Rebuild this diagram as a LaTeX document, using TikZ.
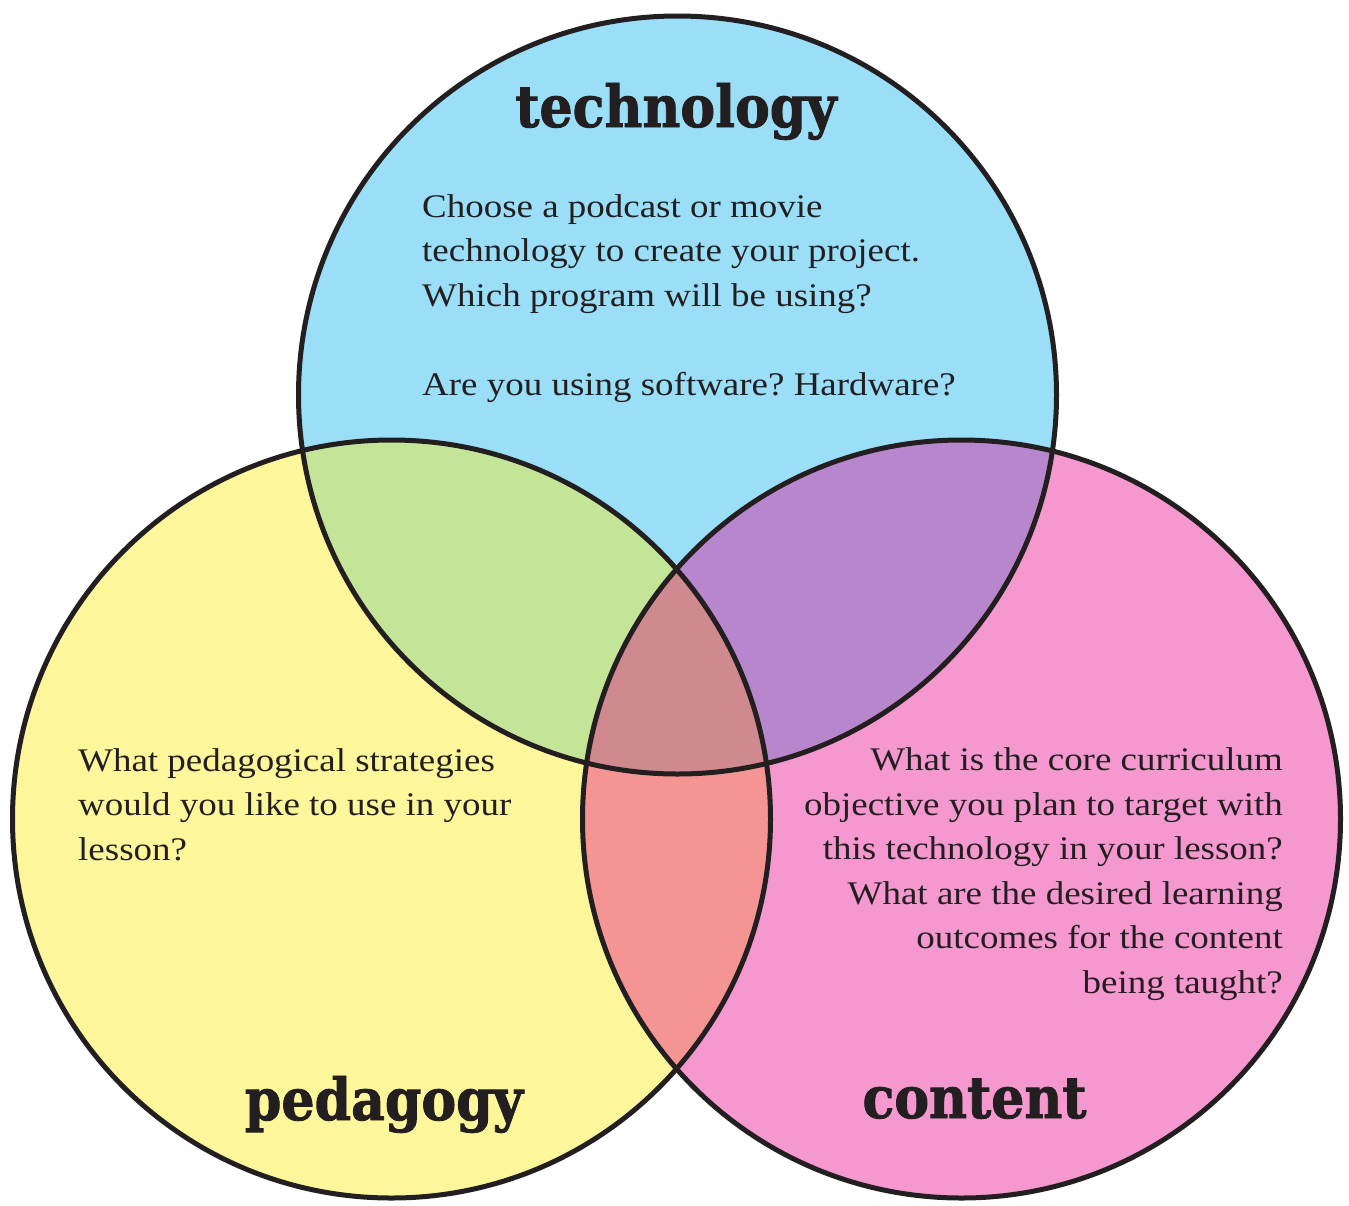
\documentclass[tikz,border=0pt]{standalone}
\usepackage{fontspec}
\setmainfont{Liberation Serif}
\newfontfamily\bodyfont[FakeStretch=1.12]{Liberation Serif}
\newfontfamily\titlefont[FakeStretch=0.9,FakeBold=1.5]{DejaVu Serif Bold}
\definecolor{techc}{HTML}{9ADEF7}
\definecolor{pedc}{HTML}{FEF69B}
\definecolor{conc}{HTML}{F598D0}
\definecolor{tpc}{HTML}{C4E597}
\definecolor{tcc}{HTML}{B886CC}
\definecolor{pcc}{HTML}{F49594}
\definecolor{allc}{HTML}{D0898E}
\definecolor{ink}{HTML}{231F20}
\tikzset{
  body/.style={inner sep=0pt, text=ink, font=\bodyfont\fontsize{33}{44.5}\selectfont\frenchspacing},
  titletext/.style={inner sep=0pt, text=ink, font=\titlefont\fontsize{58}{60}\selectfont},
  ring/.style={draw=ink, line width=5pt}
}
\begin{document}
\begin{tikzpicture}[x=1pt,y=-1pt]
\useasboundingbox (0,0) rectangle (1349,1205);
\def\R{379}
\coordinate (T) at (677.5,395);
\coordinate (P) at (391.5,819);
\coordinate (C) at (961.5,819);
% base fills
\fill[techc] (T) circle (\R);
\fill[pedc] (P) circle (\R);
\fill[conc] (C) circle (\R);
% pairwise overlaps
\begin{scope}
  \clip (T) circle (\R);
  \fill[tpc] (P) circle (\R);
\end{scope}
\begin{scope}
  \clip (T) circle (\R);
  \fill[tcc] (C) circle (\R);
\end{scope}
\begin{scope}
  \clip (P) circle (\R);
  \fill[pcc] (C) circle (\R);
\end{scope}
% triple overlap
\begin{scope}
  \clip (T) circle (\R);
  \clip (P) circle (\R);
  \fill[allc] (C) circle (\R);
\end{scope}
% outlines
\draw[ring] (T) circle (\R);
\draw[ring] (P) circle (\R);
\draw[ring] (C) circle (\R);
% titles
\node[titletext, anchor=base] (ttitle) at (676,127) {technology};
\node[titletext, anchor=base] (ptitle) at (384,1120) {pedagogy};
\node[titletext, anchor=base] (ctitle) at (974.5,1118) {content};
% texts (base anchor = last line's baseline)
\node[body, anchor=base west, align=left] (ttext) at (422,395)
  {Choose a podcast or movie\\technology to create your project.\\Which program will be using?\\[44.5pt]Are you using software? Hardware?};
\node[body, anchor=base west, align=left] (ptext) at (78,860)
  {What pedagogical strategies\\would you like to use in your\\lesson?};
\node[body, anchor=base east, align=right] (ctext) at (1283,993)
  {What is the core curriculum\\objective you plan to target with\\this technology in your lesson?\\What are the desired learning\\outcomes for the content\\being taught?};
\end{tikzpicture}
\end{document}
